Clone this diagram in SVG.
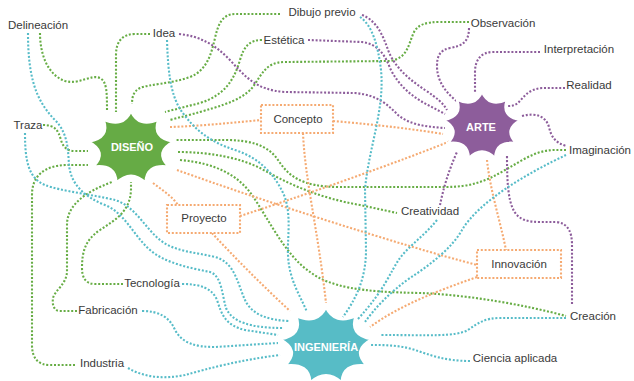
<svg xmlns="http://www.w3.org/2000/svg" xmlns:xlink="http://www.w3.org/1999/xlink" width="634" height="381" viewBox="0 0 634 381">
<style>
.c{fill:none;stroke-width:2.1;stroke-dasharray:2 1.8}
.g{stroke:#67ad45}.p{stroke:#8d5d9b}.t{stroke:#57bcc8}.o{stroke:#f5aa72}
.lbl{font-family:"Liberation Sans",Arial,sans-serif;font-size:11.5px;fill:#3a3a3a;text-anchor:middle}
.hub{font-family:"Liberation Sans",Arial,sans-serif;font-size:11px;font-weight:bold;fill:#ffffff;text-anchor:middle}
.box{fill:#ffffff;stroke:#f5aa72;stroke-width:2.1;stroke-dasharray:2 1.8}
.star{stroke:#ffffff;stroke-width:6}
</style>
<defs>
<path id="star" d="M0,-100 Q19,-52 64,-77 Q48,-28 98,-17 Q54,10 87,50 Q35,42 34,94 Q0,55 -34,94 Q-35,42 -87,50 Q-54,10 -98,-17 Q-48,-28 -64,-77 Q-19,-52 0,-100Z"/>
</defs>
<rect width="634" height="381" fill="#ffffff"/>
<g id="connectors">
<path class="c g" d="M40,33 C40,55 48,75 65,81 C80,85 90,74 100,78 C107,82 107,92 107,112"/>
<path class="c g" d="M150,34 L135,34 C122,34 116,42 116,55 L116,112"/>
<path class="c g" d="M280,14 L235,14 C222,14 218,25 215,38 C211,55 207,70 190,77 C170,84 150,84 140,88 C134,91 132,96 132,104"/>
<path class="c g" d="M262,40 C250,40 244,46 240,60 C234,80 225,95 200,103 L165,112"/>
<path class="c g" d="M469,22 L440,22 C425,22 418,25 414,32 C408,45 408,58 390,61 L285,62 C265,62 262,75 252,88 C240,102 215,108 170,120"/>
<path class="c g" d="M43,125 C55,125 58,130 61,140 C63,147 67,151 75,151 L88,151"/>
<path class="c g" d="M75,365 L50,365 C38,365 32,358 32,345 L32,195 C32,175 45,166 65,165 L88,165"/>
<path class="c g" d="M77,311 L60,311 C54,311 52,305 53,298 C55,290 66,285 67,272 L67,225 C67,205 85,192 112,182"/>
<path class="c g" d="M123,284 L95,284 C86,284 82,278 82,268 C82,252 85,240 100,230 C115,220 130,212 131,190 L131,182"/>
<path class="c g" d="M566,150 L555,150 C535,150 520,162 505,170 C485,182 470,187 445,187 L340,187 C300,187 288,175 278,160 C268,145 250,140 225,140 L175,140"/>
<path class="c g" d="M178,152 C210,152 240,158 260,168 C290,185 320,198 360,205 L397,213"/>
<path class="c g" d="M180,160 C215,163 238,175 252,195 C268,218 285,255 310,272 C330,287 360,292 420,293 C470,295 525,305 566,316"/>
<path class="c p" d="M179,34 C200,36 215,45 228,58 C245,76 255,90 285,92 L355,93 C378,95 388,105 398,115 C410,125 428,127 445,128"/>
<path class="c p" d="M362,15 C376,20 383,35 388,50 C395,68 410,80 425,90 C437,98 443,103 447,110"/>
<path class="c p" d="M308,40 L362,42 C378,44 385,55 390,68 C398,85 412,97 428,105 L445,114"/>
<path class="c p" d="M469,28 C469,42 462,46 450,48 C440,50 437,56 437,66 C437,82 447,94 458,102"/>
<path class="c p" d="M540,52 L493,52 C481,52 475,60 475,72 L475,93"/>
<path class="c p" d="M565,88 L542,88 C528,89 523,98 518,103 C514,106 511,106 507,106"/>
<path class="c p" d="M522,116 C537,112 546,117 549,127 C551,137 556,143 566,146"/>
<path class="c p" d="M507,156 C507,182 508,200 514,211 C519,220 528,222 540,222 L556,222 C568,223 572,232 572,245 L572,306"/>
<path class="c p" d="M440,205 C443,190 448,172 457,152"/>
<path class="c o" d="M170,127 C200,126 230,123 261,120"/>
<path class="c o" d="M333,121 C380,125 420,130 443,134"/>
<path class="c o" d="M303,133 C305,180 318,230 326,303"/>
<path class="c o" d="M153,183 C162,190 172,196 178,205"/>
<path class="c o" d="M240,216 C290,200 400,162 458,138"/>
<path class="c o" d="M212,233 C235,258 262,285 290,311"/>
<path class="c o" d="M177,170 C260,200 400,245 477,265"/>
<path class="c o" d="M487,160 C490,190 500,220 506,250"/>
<path class="c o" d="M477,277 C440,290 400,305 370,327"/>
<path class="c t" d="M28,33 C28,75 35,100 55,120 C68,133 68,150 69,165 C71,185 85,197 105,205 C125,213 133,235 150,250 C165,263 190,268 210,272 C222,276 222,295 226,308 C232,322 250,328 283,328"/>
<path class="c t" d="M25,133 C25,160 28,178 45,185 C60,191 95,195 115,200 C135,206 145,228 160,240 C175,252 195,252 215,257 C235,262 238,285 245,300 C252,315 268,320 289,321"/>
<path class="c t" d="M167,40 C168,70 170,95 182,112 C195,130 210,142 235,150 C260,158 275,175 284,195 C292,215 287,240 288,255 C289,280 300,295 307,312"/>
<path class="c t" d="M360,17 C372,25 378,45 381,70 C385,110 368,150 365,190 L366,250 C366,280 355,300 343,317"/>
<path class="c t" d="M182,284 C200,284 212,288 217,300 C222,315 225,325 245,330 L278,335"/>
<path class="c t" d="M142,311 C160,311 170,318 175,330 C182,343 195,347 215,347 L278,343"/>
<path class="c t" d="M128,368 C145,378 165,379 185,375 C210,368 240,360 280,355"/>
<path class="c t" d="M566,318 L500,318 C485,318 478,323 468,330 C455,337 430,335 380,335"/>
<path class="c t" d="M470,361 C445,361 430,355 415,350 C400,345 385,345 370,345"/>
<path class="c t" d="M566,155 C530,172 480,200 462,230 C452,248 430,265 410,278 C390,292 375,308 365,322"/>
<path class="c t" d="M437,220 C425,235 410,245 400,258 C390,272 385,290 357,320"/>
</g>
<g id="diseno"><use xlink:href="#star" class="star" fill="#66ab45" transform="translate(131,148) scale(0.43,0.37)"/><text class="hub" x="132" y="151">DISEÑO</text></g>
<g id="arte"><use xlink:href="#star" class="star" fill="#8d5d9b" transform="translate(482,126) scale(0.39,0.34)"/><text class="hub" x="481" y="131">ARTE</text></g>
<g id="ingenieria"><use xlink:href="#star" class="star" fill="#57bcc6" transform="translate(326,346) scale(0.47,0.39)"/><text class="hub" x="326" y="351">INGENIERÍA</text></g>
<g id="concepto"><rect class="box" x="261" y="105" width="72" height="28"/><text class="lbl" x="298" y="123">Concepto</text></g>
<g id="proyecto"><rect class="box" x="167" y="205" width="73" height="28"/><text class="lbl" x="204" y="222">Proyecto</text></g>
<g id="innovacion"><rect class="box" x="477" y="250" width="84" height="28"/><text class="lbl" x="519" y="268">Innovación</text></g>
<g id="delineacion"><text class="lbl" x="38" y="29">Delineación</text></g>
<g id="idea"><text class="lbl" x="164" y="37">Idea</text></g>
<g id="dibujo"><text class="lbl" x="322" y="16">Dibujo previo</text></g>
<g id="estetica"><text class="lbl" x="284" y="44">Estética</text></g>
<g id="observacion"><text class="lbl" x="503" y="27">Observación</text></g>
<g id="interpretacion"><text class="lbl" x="579" y="53">Interpretación</text></g>
<g id="realidad"><text class="lbl" x="589" y="89">Realidad</text></g>
<g id="traza"><text class="lbl" x="28" y="129">Traza</text></g>
<g id="imaginacion"><text class="lbl" x="600" y="154">Imaginación</text></g>
<g id="creatividad"><text class="lbl" x="430" y="215">Creatividad</text></g>
<g id="tecnologia"><text class="lbl" x="152" y="287">Tecnología</text></g>
<g id="fabricacion"><text class="lbl" x="108" y="314">Fabricación</text></g>
<g id="industria"><text class="lbl" x="102" y="367">Industria</text></g>
<g id="creacion"><text class="lbl" x="593" y="320">Creación</text></g>
<g id="ciencia"><text class="lbl" x="515" y="362">Ciencia aplicada</text></g>
</svg>
